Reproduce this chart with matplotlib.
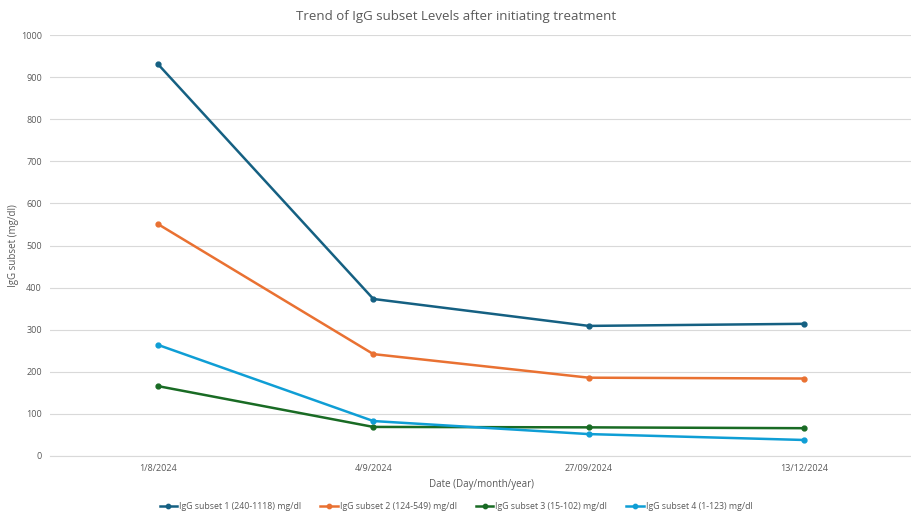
import matplotlib
matplotlib.use("Agg")
import matplotlib.pyplot as plt

plt.rcParams['font.family'] = ['Open Sans', 'DejaVu Sans']

dates = ["1/8/2024", "4/9/2024", "27/09/2024", "13/12/2024"]
igg1 = [931, 373, 309, 314]
igg2 = [551, 242, 186, 184]
igg3 = [166, 69, 68, 66]
igg4 = [264, 83, 52, 38]
labels = ["IgG subset 1 (240-1118) mg/dl", "IgG subset 2 (124-549) mg/dl",
          "IgG subset 3 (15-102) mg/dl", "IgG subset 4 (1-123) mg/dl"]
colors = ["#156082", "#E97132", "#196B24", "#0F9ED5"]

fig = plt.figure(figsize=(9.12, 5.15), dpi=100)
ax = fig.add_axes([0.055, 0.1146, 0.945, 0.8174])
x = list(range(len(dates)))
for vals, lab, c in zip([igg1, igg2, igg3, igg4], labels, colors):
    ax.plot(x, vals, color=c, lw=1.8, marker='o', ms=3.5, label=lab)

ax.set_xlim(-0.5, 3.5)
ax.set_ylim(0, 1000)
ax.set_yticks(range(0, 1001, 100))
ax.set_xticks(x)
ax.set_xticklabels(dates)
ax.grid(axis='y', color='#d9d9d9', lw=0.8)
ax.set_axisbelow(True)
for s in ['top', 'right', 'left']:
    ax.spines[s].set_visible(False)
ax.spines['bottom'].set_color('#d9d9d9')
ax.tick_params(axis='both', length=0, labelsize=6.5, colors='#595959', pad=6)
ax.set_xlabel("Date (Day/month/year)", fontsize=7, color='#595959', labelpad=4)
ax.set_ylabel("IgG subset (mg/dl)", fontsize=7, color='#595959', labelpad=1)
fig.text(0.5, 0.968, "Trend of IgG subset Levels after initiating treatment",
         ha='center', va='center', fontsize=9.5, color='#595959')
leg = fig.legend(loc='center', bbox_to_anchor=(0.5, 0.016), ncol=4, frameon=False,
                 fontsize=6.3, handlelength=2, columnspacing=2.2, handletextpad=0.2,
                 markerscale=0.9)
for t in leg.get_texts():
    t.set_color('#595959')
fig.savefig("out.png", dpi=100)
